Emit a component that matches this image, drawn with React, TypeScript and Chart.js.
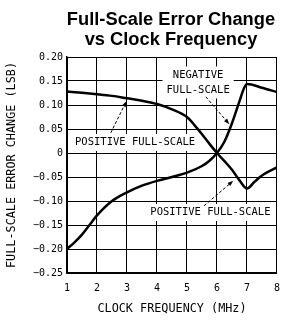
import React, { useEffect, useRef } from "react";
import { Chart, registerables } from "chart.js";

Chart.register(...registerables);

const titleLines = ["Full-Scale Error Change", "vs Clock Frequency"];
const xTitle = "CLOCK FREQUENCY (MHz)";
const yTitle = "FULL-SCALE ERROR CHANGE (LSB)";

const xTickValues = [1, 2, 3, 4, 5, 6, 7, 8];
const yTickValues = [-0.25, -0.2, -0.15, -0.1, -0.05, 0, 0.05, 0.1, 0.15, 0.2];
const yTickLabels = ["−0.25", "−0.20", "−0.15", "−0.10", "−0.05", "0", "0.05", "0.10", "0.15", "0.20"];

const posFreq = [1, 1.5, 2, 2.5, 3, 3.5, 4, 4.5, 5, 5.25, 5.5, 5.75, 6, 6.25, 6.5, 6.75, 7, 7.25, 7.5, 8];
const posValues = [0.128, 0.1255, 0.1225, 0.119, 0.114, 0.109, 0.102, 0.091, 0.075, 0.058, 0.039, 0.019, 0, -0.017, -0.035, -0.057, -0.074, -0.06, -0.047, -0.03];

const negFreq = [1, 1.25, 1.5, 1.75, 2, 2.5, 3, 3.5, 4, 4.5, 5, 5.5, 5.75, 6, 6.25, 6.5, 6.75, 6.9, 7, 7.5, 8];
const negValues = [-0.2, -0.186, -0.17, -0.15, -0.13, -0.1, -0.082, -0.068, -0.058, -0.05, -0.041, -0.027, -0.016, 0, 0.024, 0.062, 0.108, 0.135, 0.144, 0.136, 0.127];

// annotation labels: text lines, anchor (MHz, LSB)
const labelTexts = [["POSITIVE FULL-SCALE"], ["NEGATIVE", "FULL-SCALE"], ["POSITIVE FULL-SCALE"]];
const labelX = [3.27, 5.37, 5.78];
const labelY = [0.022, 0.147, -0.124];
// arrows: from (x0,y0) to (x1,y1) in data units
const arrowFromX = [2.46, 5.63, 5.57];
const arrowFromY = [0.042, 0.117, -0.11];
const arrowToX = [2.98, 6.41, 6.54];
const arrowToY = [0.108, 0.06, -0.058];

const MONO = '"DejaVu Sans Mono", monospace';

export default function App() {
  const ref = useRef<HTMLCanvasElement | null>(null);

  useEffect(() => {
    const canvas = ref.current;
    if (!canvas) return;

    const annotations = {
      id: "annotations",
      beforeDatasetsDraw(chart: any) {
        const { ctx, scales } = chart;
        const xs = scales.x;
        const ys = scales.y;
        ctx.save();
        ctx.font = `10.5px ${MONO}`;
        ctx.textAlign = "center";
        ctx.textBaseline = "middle";
        labelTexts.forEach((lines, i) => {
          const cx = xs.getPixelForValue(labelX[i]);
          const cy = ys.getPixelForValue(labelY[i]);
          const lh = 15;
          const h = lines.length * lh;
          const w = Math.max(...lines.map((l) => ctx.measureText(l).width));
          ctx.fillStyle = "#fff";
          ctx.fillRect(cx - w / 2 - 4, cy - h / 2 - 1, w + 8, h + 2);
          ctx.fillStyle = "#000";
          lines.forEach((l, j) => {
            ctx.fillText(l, cx, cy - h / 2 + lh / 2 + j * lh);
          });
        });
        ctx.restore();
      },
      afterDatasetsDraw(chart: any) {
        const { ctx, scales } = chart;
        const xs = scales.x;
        const ys = scales.y;
        ctx.save();
        ctx.strokeStyle = "#000";
        ctx.fillStyle = "#000";
        ctx.lineWidth = 1;
        arrowFromX.forEach((_, i) => {
          const x0 = xs.getPixelForValue(arrowFromX[i]);
          const y0 = ys.getPixelForValue(arrowFromY[i]);
          const x1 = xs.getPixelForValue(arrowToX[i]);
          const y1 = ys.getPixelForValue(arrowToY[i]);
          const a = Math.atan2(y1 - y0, x1 - x0);
          const hl = 6;
          ctx.setLineDash([3, 2]);
          ctx.beginPath();
          ctx.moveTo(x0, y0);
          ctx.lineTo(x1 - Math.cos(a) * hl * 0.8, y1 - Math.sin(a) * hl * 0.8);
          ctx.stroke();
          ctx.setLineDash([]);
          ctx.beginPath();
          ctx.moveTo(x1, y1);
          ctx.lineTo(x1 - hl * Math.cos(a - 0.35), y1 - hl * Math.sin(a - 0.35));
          ctx.lineTo(x1 - hl * Math.cos(a + 0.35), y1 - hl * Math.sin(a + 0.35));
          ctx.closePath();
          ctx.fill();
        });
        ctx.restore();
      },
      afterDraw(chart: any) {
        const { ctx, chartArea } = chart;
        ctx.save();
        ctx.font = `bold 18.3px "Liberation Sans", Arial, sans-serif`;
        ctx.fillStyle = "#000";
        ctx.textAlign = "center";
        ctx.textBaseline = "alphabetic";
        const cx = (chartArea.left + chartArea.right) / 2 - 1;
        ctx.fillText(titleLines[0], cx, 24.5);
        ctx.fillText(titleLines[1], cx, 45);
        ctx.restore();
      },
    };

    const chart = new Chart(canvas, {
      type: "line",
      data: {
        datasets: [
          {
            label: "Positive Full-Scale",
            data: posFreq.map((f, i) => ({ x: f, y: posValues[i] })),
            borderColor: "#000",
            borderWidth: 2.5,
            pointRadius: 0,
            cubicInterpolationMode: "monotone",
            fill: false,
          },
          {
            label: "Negative Full-Scale",
            data: negFreq.map((f, i) => ({ x: f, y: negValues[i] })),
            borderColor: "#000",
            borderWidth: 2.5,
            pointRadius: 0,
            cubicInterpolationMode: "monotone",
            fill: false,
          },
        ],
      },
      options: {
        responsive: false,
        animation: false,
        devicePixelRatio: 1,
        layout: { padding: { top: 57, right: 6, left: 0, bottom: 0 } },
        plugins: {
          legend: { display: false },
          title: { display: false },
          tooltip: { enabled: false },
        },
        scales: {
          x: {
            type: "linear",
            min: 1,
            max: 8,
            afterBuildTicks: (s: any) => {
              s.ticks = xTickValues.map((v) => ({ value: v }));
            },
            afterFit: (s: any) => {
              s.height = 47;
            },
            ticks: {
              font: { family: MONO, size: 10 },
              color: "#000",
              padding: 9,
              maxRotation: 0,
              callback: (v: any) => String(v),
            },
            grid: { color: "#000", lineWidth: 1, drawTicks: false },
            border: { color: "#000", width: 1.5 },
            title: {
              display: true,
              text: xTitle,
              font: { family: MONO, size: 11.8 },
              color: "#000",
              padding: { top: 4, bottom: 4 },
            },
          },
          y: {
            type: "linear",
            min: -0.25,
            max: 0.2,
            afterBuildTicks: (s: any) => {
              s.ticks = yTickValues.map((v) => ({ value: v }));
            },
            afterFit: (s: any) => {
              s.width = 67;
            },
            ticks: {
              font: { family: MONO, size: 10 },
              color: "#000",
              padding: 4,
              callback: (v: any) => {
                const idx = yTickValues.findIndex((t) => Math.abs(t - Number(v)) < 1e-6);
                return idx >= 0 ? yTickLabels[idx] : "";
              },
            },
            grid: { color: "#000", lineWidth: 1, drawTicks: false },
            border: { color: "#000", width: 1.5 },
            title: {
              display: true,
              text: yTitle,
              font: { family: MONO, size: 11.8 },
              color: "#000",
              padding: { top: 5, bottom: 4 },
            },
          },
        },
      },
      plugins: [annotations],
    } as any);

    return () => chart.destroy();
  }, []);

  return (
    <div style={{ position: "fixed", left: 0, top: 0, width: 289, height: 320, background: "#fff" }}>
      <canvas ref={ref} width={289} height={320} style={{ width: 289, height: 320, display: "block" }} />
    </div>
  );
}
